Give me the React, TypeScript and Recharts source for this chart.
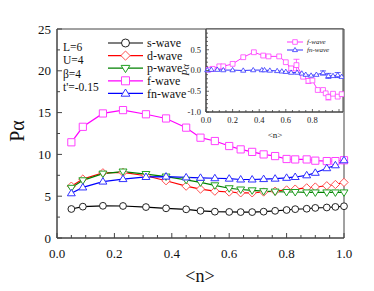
import React from 'react';
import { LineChart, Line, XAxis, YAxis, Legend, ReferenceArea, ErrorBar } from 'recharts';

// main panel: pairing amplitude vs filling <n>
const fillings = [0.05, 0.09, 0.16, 0.23, 0.31, 0.38, 0.45, 0.5, 0.55, 0.6, 0.64, 0.68, 0.72, 0.76, 0.8, 0.83, 0.87, 0.9, 0.94, 0.97, 1.0];
const sWave = [3.47, 3.75, 3.85, 3.83, 3.7, 3.55, 3.43, 3.25, 3.15, 3.12, 3.1, 3.1, 3.15, 3.25, 3.35, 3.45, 3.5, 3.6, 3.65, 3.72, 3.8];
const dWave = [6.2, 7.05, 7.8, 7.85, 7.45, 6.85, 6.2, 5.85, 5.6, 5.5, 5.4, 5.4, 5.5, 5.6, 5.75, 5.85, 6.0, 6.1, 6.25, 6.4, 6.65];
const pWave = [6.0, 6.9, 7.7, 7.95, 7.65, 7.35, 6.95, 6.65, 6.3, 5.95, 5.8, 5.7, 5.6, 5.55, 5.5, 5.5, 5.45, 5.45, 5.45, 5.45, 5.45];
const fWave = [11.45, 13.3, 14.9, 15.3, 14.8, 14.3, 13.2, 12.0, 11.6, 11.0, 10.6, 10.3, 10.0, 9.8, 9.45, 9.4, 9.4, 9.25, 9.2, 9.2, 9.3];
const fnWave = [5.35, 6.05, 6.75, 7.05, 7.3, 7.35, 7.25, 7.2, 7.15, 7.1, 7.0, 7.0, 7.05, 7.1, 7.2, 7.3, 7.5, 7.8, 8.35, 8.7, 9.3];

const mainXTicks = [0, 0.05, 0.1, 0.15, 0.2, 0.25, 0.3, 0.35, 0.4, 0.45, 0.5, 0.55, 0.6, 0.65, 0.7, 0.75, 0.8, 0.85, 0.9, 0.95, 1.0];
const mainYTicks = [0, 2.5, 5, 7.5, 10, 12.5, 15, 17.5, 20, 22.5, 25];
const params = ['L=6', 'U=4', 'β=4', "t'=-0.15"];

// inset: vertex contribution
const insetFN = [0.02, 0.05, 0.1, 0.13, 0.2, 0.28, 0.36, 0.43, 0.47, 0.55, 0.6, 0.64, 0.68, 0.73, 0.77, 0.8, 0.84, 0.88, 0.9, 0.92, 0.955, 0.99, 1.02];
const insetFV = [0.02, 0.04, 0.1, 0.1, 0.16, 0.32, 0.44, 0.36, 0.34, 0.34, 0.2, 0.05, 0.13, -0.15, -0.25, -0.24, -0.47, -0.47, -0.55, -0.64, -0.56, -0.63, -0.57];
const insetFErr = [null, null, null, null, null, null, null, null, null, null, null, 0.05, 0.14, null, 0.06, null, null, null, null, 0.07, null, null, null];
const insetFnN = [0.01, 0.04, 0.085, 0.13, 0.2, 0.28, 0.355, 0.42, 0.44, 0.48, 0.535, 0.57, 0.6, 0.64, 0.685, 0.72, 0.75, 0.79, 0.83, 0.88, 0.92, 0.955, 0.99, 1.02];
const insetFnV = [0.01, 0.02, 0.02, 0.01, 0.01, 0.0, 0.01, 0.01, 0.01, 0.0, -0.01, -0.02, -0.03, -0.05, -0.05, -0.07, -0.1, -0.12, -0.1, -0.06, -0.13, -0.13, -0.11, -0.15];
const insetFnErr = [null, null, null, null, null, null, null, null, null, null, null, null, null, null, null, null, null, null, null, 0.05, 0.06, null, 0.06, null];

const insetXTicks = [0, 0.05, 0.1, 0.15, 0.2, 0.25, 0.3, 0.35, 0.4, 0.45, 0.5, 0.55, 0.6, 0.65, 0.7, 0.75, 0.8, 0.85, 0.9, 0.95, 1.0];
const insetYTicks = [-1, -0.9, -0.8, -0.7, -0.6, -0.5, -0.4, -0.3, -0.2, -0.1, 0, 0.1, 0.2, 0.3, 0.4, 0.5, 0.6, 0.7, 0.8, 0.9];

const mainData = fillings.map((n, i) => ({ n, s: sWave[i], d: dWave[i], p: pWave[i], f: fWave[i], fn: fnWave[i] }));
const insetFData = insetFN.map((n, i) => ({ n, v: insetFV[i], err: insetFErr[i] }));
const insetFnData = insetFnN.map((n, i) => ({ n, v: insetFnV[i], err: insetFnErr[i] }));

const SERIF = "'Liberation Serif', 'Times New Roman', serif";
const AXIS = '#444';

type Shape = 'circle' | 'diamond' | 'square' | 'triDown' | 'triUp';

const series: { key: string; name: string; line: string; mark: string; shape: Shape }[] = [
  { key: 's', name: 's-wave', line: '#000000', mark: '#222222', shape: 'circle' },
  { key: 'd', name: 'd-wave', line: '#ff0000', mark: '#ff5050', shape: 'diamond' },
  { key: 'p', name: 'p-wave', line: '#008000', mark: '#22a022', shape: 'triDown' },
  { key: 'f', name: 'f-wave', line: '#ff00ff', mark: '#ff40ff', shape: 'square' },
  { key: 'fn', name: 'fn-wave', line: '#0000ff', mark: '#3333ff', shape: 'triUp' },
];

function Marker({ shape, cx, cy, s, color, sw = 1 }: { shape: Shape; cx: number; cy: number; s: number; color: string; sw?: number }) {
  if (cx == null || cy == null || isNaN(cx) || isNaN(cy)) return null;
  if (shape === 'circle') return <circle cx={cx} cy={cy} r={s} fill="#fff" stroke={color} strokeWidth={sw} />;
  let d = '';
  if (shape === 'diamond') d = `M${cx},${cy - s * 1.15}L${cx + s * 1.15},${cy}L${cx},${cy + s * 1.15}L${cx - s * 1.15},${cy}Z`;
  if (shape === 'square') d = `M${cx - s},${cy - s}h${2 * s}v${2 * s}h${-2 * s}Z`;
  if (shape === 'triDown') d = `M${cx - s * 1.1},${cy - s * 0.7}L${cx + s * 1.1},${cy - s * 0.7}L${cx},${cy + s * 1.1}Z`;
  if (shape === 'triUp') d = `M${cx - s * 1.1},${cy + s * 0.7}L${cx + s * 1.1},${cy + s * 0.7}L${cx},${cy - s * 1.1}Z`;
  return <path d={d} fill="#fff" stroke={color} strokeWidth={sw} />;
}

const dotFor = (shape: Shape, color: string, s: number, sw: number, tag: string) => (p: any) => (
  <g key={`${tag}-${p.index}`}>
    <Marker shape={shape} cx={p.cx} cy={p.cy} s={s} color={color} sw={sw} />
  </g>
);

const isMult = (v: number, step: number) => Math.abs(v / step - Math.round(v / step)) < 1e-6;

const MainXTick = (props: any) => {
  const { x, y, payload } = props;
  const v = payload.value;
  const major = isMult(v, 0.2);
  return (
    <g>
      <line x1={x} x2={x} y1={y} y2={y - (major ? 5 : 3)} stroke={AXIS} />
      {major && (
        <text x={x} y={y + 20} textAnchor="middle" fontFamily={SERIF} fontSize={13} fill="#111">
          {v.toFixed(1)}
        </text>
      )}
    </g>
  );
};

const MainYTick = (props: any) => {
  const { x, y, payload } = props;
  const v = payload.value;
  const major = isMult(v, 5);
  return (
    <g>
      <line x1={x} x2={x + (major ? 5 : 3)} y1={y} y2={y} stroke={AXIS} />
      {major && (
        <text x={x - 6} y={y} dy="0.35em" textAnchor="end" fontFamily={SERIF} fontSize={13} fill="#111">
          {v}
        </text>
      )}
    </g>
  );
};

const InsetXTick = (props: any) => {
  const { x, y, payload } = props;
  const v = payload.value;
  const major = isMult(v, 0.2);
  return (
    <g>
      <line x1={x} x2={x} y1={y} y2={y - (major ? 3 : 2)} stroke={AXIS} strokeWidth={0.8} />
      {major && v < 0.9 && (
        <text x={x} y={y + 11} textAnchor="middle" fontFamily={SERIF} fontSize={8.5} fill="#222">
          {v.toFixed(1)}
        </text>
      )}
    </g>
  );
};

const InsetYTick = (props: any) => {
  const { x, y, payload } = props;
  const v = payload.value;
  const major = isMult(v, 0.5);
  return (
    <g>
      <line x1={x} x2={x + (major ? 3 : 2)} y1={y} y2={y} stroke={AXIS} strokeWidth={0.8} />
      {major && (
        <text x={x - 5} y={y} dy="0.35em" textAnchor="end" fontFamily={SERIF} fontSize={8.5} fill="#222">
          {v.toFixed(1)}
        </text>
      )}
    </g>
  );
};

const MainLegend = () => (
  <svg width={80} height={66} style={{ display: 'block' }}>
    {series.map((s, i) => {
      const cy = 6 + i * 12.6;
      return (
        <g key={s.key}>
          <line x1={0} x2={35} y1={cy} y2={cy} stroke={s.line} strokeWidth={1.2} />
          <Marker shape={s.shape} cx={17.5} cy={cy} s={4} color={s.mark} sw={1} />
          <text x={39} y={cy} dy="0.35em" fontFamily={SERIF} fontSize={12} fill="#111">
            {s.name}
          </text>
        </g>
      );
    })}
  </svg>
);

const insetSeries = [series[3], series[4]];

const InsetLegend = () => (
  <svg width={50} height={18} style={{ display: 'block' }}>
    {insetSeries.map((s, i) => {
      const cy = 3 + i * 8;
      return (
        <g key={s.key}>
          <line x1={0} x2={16} y1={cy} y2={cy} stroke={s.line} strokeWidth={0.8} />
          <Marker shape={s.shape} cx={8} cy={cy} s={2.3} color={s.mark} sw={0.8} />
          <text x={20} y={cy} dy="0.35em" fontFamily={SERIF} fontStyle="italic" fontSize={7} fill="#222">
            {s.name}
          </text>
        </g>
      );
    })}
  </svg>
);

export default function App() {
  return (
    <div style={{ position: 'absolute', left: 0, top: 0, width: 374, height: 291, background: '#fff', fontFamily: SERIF }}>
      <LineChart width={374} height={291} data={mainData} margin={{ top: 29, right: 30, bottom: 23, left: 17 }}>
        <XAxis
          dataKey="n"
          type="number"
          domain={[0, 1]}
          ticks={mainXTicks}
          interval={0}
          height={30}
          tickSize={0}
          tickMargin={0}
          tickLine={false}
          axisLine={{ stroke: AXIS }}
          tick={<MainXTick />}
        />
        <YAxis
          type="number"
          domain={[0, 25]}
          ticks={mainYTicks}
          interval={0}
          width={40}
          tickSize={0}
          tickMargin={0}
          tickLine={false}
          axisLine={{ stroke: AXIS }}
          tick={<MainYTick />}
        />
        <ReferenceArea x1={0} x2={1} y1={0} y2={25} fill="none" stroke={AXIS} strokeWidth={1} />
        {series.map((s) => (
          <Line
            key={s.key}
            dataKey={s.key}
            name={s.name}
            stroke={s.line}
            strokeWidth={1.2}
            dot={dotFor(s.shape, s.mark, s.shape === 'circle' ? 3.4 : 3.6, 1, s.key)}
            isAnimationActive={false}
          />
        ))}
      </LineChart>

      <div style={{ position: 'absolute', left: 108, top: 37 }}>
        <MainLegend />
      </div>
      {params.map((t, i) => (
        <div
          key={t}
          style={{ position: 'absolute', left: 63, top: 41 + i * 13.4, fontSize: 11.5, lineHeight: '13px', color: '#111', whiteSpace: 'nowrap' }}
        >
          {t}
        </div>
      ))}
      <div
        style={{
          position: 'absolute',
          left: 17,
          top: 131,
          transform: 'translate(-50%, -50%) rotate(-90deg)',
          fontSize: 20,
          color: '#111',
          whiteSpace: 'nowrap',
        }}
      >
        Pα
      </div>
      <div style={{ position: 'absolute', left: 200, top: 276, transform: 'translate(-50%, -50%)', fontSize: 18, color: '#111' }}>
        &lt;n&gt;
      </div>

      <div style={{ position: 'absolute', left: 176, top: 28 }}>
        <LineChart width={168} height={98} margin={{ top: 1, right: 1, bottom: 0, left: 0 }}>
          <ReferenceArea x1={0} x2={1.03} y1={-1} y2={1} fill="#fff" fillOpacity={1} stroke={AXIS} strokeWidth={1} />
          <XAxis
            dataKey="n"
            type="number"
            domain={[0, 1.03]}
            ticks={insetXTicks}
            interval={0}
            height={14}
            tickSize={0}
            tickMargin={0}
            tickLine={false}
            axisLine={{ stroke: AXIS }}
            tick={<InsetXTick />}
            allowDuplicatedCategory={false}
          />
          <YAxis
            type="number"
            domain={[-1, 1]}
            ticks={insetYTicks}
            interval={0}
            width={30}
            tickSize={0}
            tickMargin={0}
            tickLine={false}
            axisLine={{ stroke: AXIS }}
            tick={<InsetYTick />}
          />
          <Line
            data={insetFData}
            dataKey="v"
            name="f-wave"
            stroke="#ff00ff"
            strokeWidth={0.8}
            dot={dotFor('square', '#ff40ff', 2.4, 0.8, 'if')}
            isAnimationActive={false}
          >
            <ErrorBar dataKey="err" direction="y" width={3} stroke="#ff40ff" strokeWidth={0.8} />
          </Line>
          <Line
            data={insetFnData}
            dataKey="v"
            name="fn-wave"
            stroke="#0000ff"
            strokeWidth={0.8}
            dot={dotFor('triUp', '#3333ff', 2.4, 0.8, 'ifn')}
            isAnimationActive={false}
          >
            <ErrorBar dataKey="err" direction="y" width={3} stroke="#3333ff" strokeWidth={0.8} />
          </Line>
          <Legend
            layout="vertical"
            align="center"
            verticalAlign="middle"
            content={() => <InsetLegend />}
            wrapperStyle={{ left: 111, top: 11, width: 50, height: 18 }}
          />
        </LineChart>
      </div>
      <div
        style={{
          position: 'absolute',
          left: 185,
          top: 70,
          transform: 'translate(-50%, -50%) rotate(-90deg)',
          fontSize: 10,
          fontStyle: 'italic',
          color: '#222',
          whiteSpace: 'nowrap',
        }}
      >
        Pα
      </div>
      <div style={{ position: 'absolute', left: 275, top: 135, transform: 'translate(-50%, -50%)', fontSize: 9, color: '#222' }}>
        &lt;n&gt;
      </div>
    </div>
  );
}
